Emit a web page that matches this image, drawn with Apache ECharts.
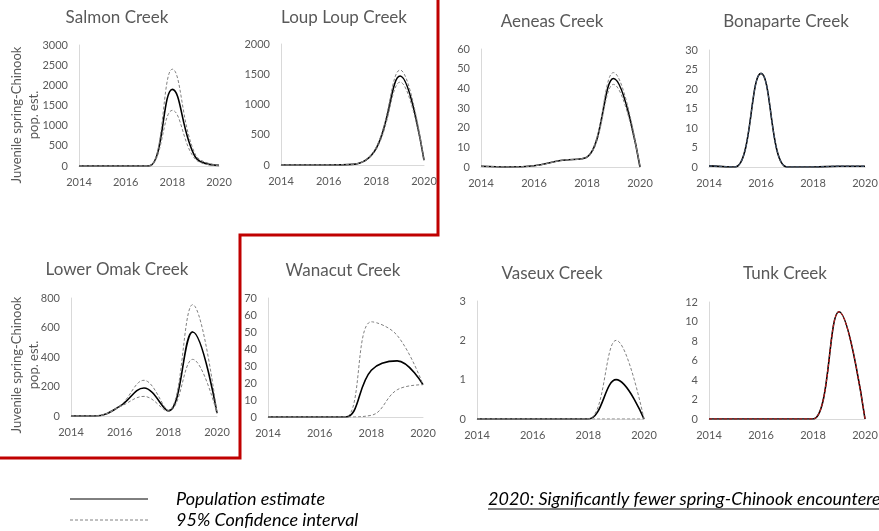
<!DOCTYPE html>
<html>
<head>
<meta charset="utf-8">
<script src="https://cdn.jsdelivr.net/npm/echarts@6/dist/echarts.min.js"></script>
<style>
  html, body { margin: 0; padding: 0; background: #fff; }
  #chart { width: 879px; height: 531px; }
</style>
</head>
<body>
<div id="chart"></div>
<script>
// 各支流幼鱼种群估计（2014-2020）
const years = [2014, 2015, 2016, 2017, 2018, 2019, 2020];

const creekNames = ['Salmon Creek', 'Loup Loup Creek', 'Aeneas Creek', 'Bonaparte Creek',
    'Lower Omak Creek', 'Wanacut Creek', 'Vaseux Creek', 'Tunk Creek'];

const salmonEst = [0, 0, 0, 0, 1900, 210, 15];
const salmonHi = [0, 0, 0, 0, 2400, 270, 20];
const salmonLo = [0, 0, 0, 0, 1380, 160, 10];

const loupEst = [0, 0, 0, 10, 280, 1470, 80];
const loupHi = [0, 0, 0, 10, 300, 1570, 85];
const loupLo = [0, 0, 0, 10, 260, 1370, 75];

const aeneasEst = [0.4, 0, 0.6, 3.3, 5, 45, 0];
const aeneasHi = [0.4, 0, 0.6, 3.3, 5.2, 48, 0];
const aeneasLo = [0.4, 0, 0.6, 3.3, 4.8, 42, 0];

const bonaparteEst = [0.3, 0, 24, 0, 0, 0.2, 0.2];
const bonaparteHi = [0.3, 0, 24, 0, 0, 0.2, 0.2];
const bonaparteLo = [0.3, 0, 24, 0, 0, 0.2, 0.2];

const omakEst = [0, 0, 65, 190, 35, 570, 20];
const omakHi = [0, 0, 68, 242, 38, 755, 22];
const omakLo = [0, 0, 62, 133, 32, 384, 18];

const wanacutEst = [0, 0, 0, 0, 27.5, 33, 19];
const wanacutHi = [0, 0, 0, 0, 56, 48, 19];
const wanacutLo = [0, 0, 0, 0, 1, 16, 19];

const vaseuxEst = [0, 0, 0, 0, 0, 1, 0];
const vaseuxHi = [0, 0, 0, 0, 0, 2, 0];
const vaseuxLo = [0, 0, 0, 0, 0, 0, 0];

const tunkEst = [0, 0, 0, 0, 0, 11, 0];
const tunkHi = [0, 0, 0, 0, 0, 11, 0];
const tunkLo = [0, 0, 0, 0, 0, 11, 0];

const yMax = [3000, 2000, 60, 30, 800, 70, 3, 12];
const yStep = [500, 500, 10, 5, 200, 10, 1, 2];

const estData = [salmonEst, loupEst, aeneasEst, bonaparteEst, omakEst, wanacutEst, vaseuxEst, tunkEst];
const hiData = [salmonHi, loupHi, aeneasHi, bonaparteHi, omakHi, wanacutHi, vaseuxHi, tunkHi];
const loData = [salmonLo, loupLo, aeneasLo, bonaparteLo, omakLo, wanacutLo, vaseuxLo, tunkLo];

const yName = 'Juvenile spring-Chinook\npop. est.';
const legendNames = ['Population estimate', '95% Confidence interval'];
const note = '2020: Significantly fewer spring-Chinook encountered';

// 布局
const grids = [
    { left: 79, top: 45, width: 140, height: 121 },
    { left: 281, top: 44, width: 143, height: 121 },
    { left: 481, top: 49, width: 159, height: 118 },
    { left: 709, top: 50, width: 156, height: 117 },
    { left: 71, top: 298, width: 146, height: 118 },
    { left: 268, top: 298, width: 155, height: 119 },
    { left: 477, top: 301, width: 167, height: 118 },
    { left: 709, top: 302, width: 156, height: 117 }
];
const titlePos = [[117, 18], [344, 18], [552, 22], [786, 22], [117, 270], [343, 271], [552, 274], [785, 274]];
const ciColors = ['#808080', '#808080', '#808080', '#44546a', '#808080', '#808080', '#808080', '#b02020'];
const SMOOTH = 0.4;

const FONT = 'Lato, "Open Sans", sans-serif';
const GREY = '#595959';

const pair = arr => arr.map((v, i) => [years[i], v]);

const chart = echarts.init(document.getElementById('chart'));

const series = [];
creekNames.forEach((name, i) => {
    series.push({
        type: 'line', name: legendNames[0], xAxisIndex: i, yAxisIndex: i,
        data: pair(estData[i]), smooth: SMOOTH, showSymbol: false,
        lineStyle: { color: '#000', width: 1.6 }
    });
    [hiData[i], loData[i]].forEach(d => {
        series.push({
            type: 'line', name: legendNames[1], xAxisIndex: i, yAxisIndex: i,
            data: pair(d), smooth: SMOOTH, showSymbol: false,
            lineStyle: { color: ciColors[i], width: 1, type: [3, 2] }
        });
    });
});

const option = {
    animation: false,
    textStyle: { fontFamily: FONT },
    title: creekNames.map((name, i) => ({
        text: name,
        left: titlePos[i][0],
        top: titlePos[i][1] - 9,
        textAlign: 'center',
        padding: 0,
        textStyle: { color: GREY, fontSize: 17, fontWeight: 'normal', fontFamily: FONT }
    })),
    grid: grids.map(g => Object.assign({ outerBoundsMode: 'none', containLabel: false }, g)),
    xAxis: grids.map((g, i) => ({
        type: 'value', gridIndex: i, min: 2014, max: 2020, interval: 2,
        axisLine: { show: true, lineStyle: { color: '#d9d9d9' } },
        axisTick: { show: false },
        splitLine: { show: false },
        axisLabel: { color: GREY, fontSize: 11, margin: 11, fontFamily: FONT, formatter: v => String(v) }
    })),
    yAxis: grids.map((g, i) => ({
        type: 'value', gridIndex: i, min: 0, max: yMax[i], interval: yStep[i],
        axisLine: { show: true, lineStyle: { color: '#d9d9d9' } },
        axisTick: { show: false },
        splitLine: { show: false },
        axisLabel: { color: GREY, fontSize: 11, margin: 11, fontFamily: FONT, formatter: v => String(v) }
    })),
    graphic: [
        // 纵轴标题
        {
            type: 'text', x: 25, y: 115, rotation: Math.PI / 2,
            style: { text: yName, fill: GREY, fontSize: 13, lineHeight: 17, align: 'center', verticalAlign: 'middle', fontFamily: FONT }
        },
        {
            type: 'text', x: 25, y: 365, rotation: Math.PI / 2,
            style: { text: yName, fill: GREY, fontSize: 13, lineHeight: 17, align: 'center', verticalAlign: 'middle', fontFamily: FONT }
        },
        // 红色分隔线
        {
            type: 'polyline',
            shape: { points: [[438, 0], [438, 235], [240, 235], [240, 458], [0, 458]] },
            style: { stroke: '#c00000', lineWidth: 3, fill: null }
        },
        // 图例
        { type: 'line', shape: { x1: 70, y1: 499, x2: 148, y2: 499 }, style: { stroke: '#000', lineWidth: 1 } },
        { type: 'line', shape: { x1: 70, y1: 520, x2: 148, y2: 520 }, style: { stroke: '#808080', lineWidth: 1, lineDash: [3, 2] } },
        {
            type: 'text', x: 176, y: 499,
            style: { text: legendNames[0], fill: '#000', fontSize: 18, fontStyle: 'italic', verticalAlign: 'middle', fontFamily: FONT }
        },
        {
            type: 'text', x: 176, y: 520,
            style: { text: legendNames[1], fill: '#000', fontSize: 18, fontStyle: 'italic', verticalAlign: 'middle', fontFamily: FONT }
        },
        {
            type: 'text', x: 488, y: 499,
            style: { text: note, fill: '#000', fontSize: 18, fontStyle: 'italic', verticalAlign: 'middle', fontFamily: FONT }
        },
        { type: 'line', shape: { x1: 488, y1: 509, x2: 879, y2: 509 }, style: { stroke: '#000', lineWidth: 1 } }
    ],
    series: series
};

chart.setOption(option);
</script>
</body>
</html>
